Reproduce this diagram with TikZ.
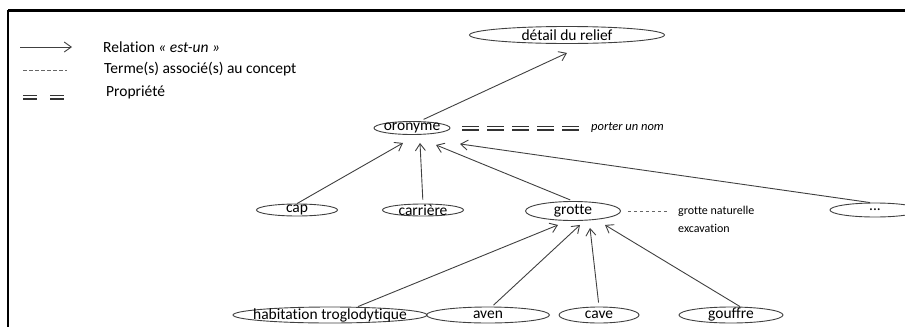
\documentclass[tikz,border=0pt]{standalone}
\usepackage{fontspec}
\setmainfont{Carlito}[Ligatures={NoCommon}]
\usetikzlibrary{positioning,shapes.geometric,arrows.meta}

\begin{document}
\begin{tikzpicture}[x=1pt, y=-1pt, font=\fontsize{15.5}{18}\selectfont,
	concept/.style = {draw=black!75, ellipse, line width=0.9pt, inner sep=0pt, minimum height=16},
	isa/.style = {draw=black!75, line width=0.9pt, -{Straight Barb[length=7pt,width=10pt]}},
	prop/.style = {draw=black!80, double=white, line width=1.4pt, double distance=2.2pt, dash pattern=on 17pt off 8pt},
	term/.style = {draw=black!60, line width=0.8pt, dash pattern=on 3.5pt off 2.5pt},
	txt/.style = {anchor=west, inner sep=0pt},
	note/.style = {txt, font=\fontsize{12}{18}\selectfont}]
	\useasboundingbox (0,0) rectangle (905,327);
	\draw[line width=3pt] (8,10) -- (905,10);
	\draw[line width=2pt] (8,10) -- (8,327);
	% legend
	\node[txt] (isalbl) at (103,47) {Relation \textit{« est-un »}};
	\node[txt] (termlbl) at (104,69) {Terme(s) associé(s) au concept};
	\node[txt] (proplbl) at (106,92) {Propriété};
	\coordinate (isa1) at (20,47);
	\coordinate (isa2) at (72,47);
	\coordinate (term1) at (23,70);
	\coordinate (term2) at (67,70);
	\coordinate (prop1) at (23,97);
	\coordinate (prop2) at (64,97);
	\draw[isa] (isa1) -- (isa2);
	\draw[term] (term1) -- (term2);
	\draw[prop, dash pattern=on 14pt off 13pt] (prop1) -- (prop2);
	% concepts
	\node[concept, minimum width=195, minimum height=17, label=center:détail du relief] (relief) at (567,35) {};
	\node[concept, minimum width=76, minimum height=13, label=center:oronyme] (oronyme) at (412,128) {};
	\node[concept, minimum width=81, minimum height=12, label=center:cap] (cap) at (297,210) {};
	\node[concept, minimum width=81, minimum height=12, label=center:carrière] (carriere) at (423,210) {};
	\node[concept, minimum width=95, minimum height=19, label=center:grotte] (grotte) at (573,211) {};
	\node[concept, minimum width=90, minimum height=14, label=center:...] (etc) at (875,210) {};
	\node[concept, minimum width=194, label=center:habitation troglodytique] (habitation) at (330,315) {};
	\node[concept, minimum width=123, label=center:aven] (aven) at (488,315) {};
	\node[concept, minimum width=80, label=center:cave] (cave) at (599,315) {};
	\node[concept, minimum width=104, label=center:gouffre] (gouffre) at (731,315) {};
	\node[note, font=\fontsize{12.5}{15}\selectfont\itshape] (porter) at (591,128) {porter un nom};
	\node[note, align=left] (naturelle) at (678,219) {grotte naturelle\\excavation};
	% relations
	\draw[isa, shorten <=4pt] ([xshift=8pt]oronyme.north) -- ([yshift=-9pt]relief.south);
	\draw[isa] (cap.north) -- ([xshift=-9pt, yshift=-8pt]oronyme.south);
	\draw[isa, shorten <=4pt] (carriere.north) -- ([xshift=8pt, yshift=-8pt]oronyme.south);
	\draw[isa, shorten <=3pt] (grotte.north) -- ([xshift=24pt, yshift=-10pt]oronyme.south);
	\draw[isa] ([xshift=-5pt]etc.north) -- ([xshift=48pt, yshift=-9pt]oronyme.south);
	\draw[isa] ([xshift=28pt]habitation.north) -- ([xshift=-15pt, yshift=-4pt]grotte.south);
	\draw[isa, shorten <=2pt] ([xshift=4pt]aven.north) -- ([xshift=7pt, yshift=-4pt]grotte.south);
	\draw[isa, shorten <=4pt] (cave.north) -- ([xshift=17pt, yshift=-7pt]grotte.south);
	\draw[isa] ([xshift=9pt]gouffre.north) -- ([xshift=32pt, yshift=-4pt]grotte.south);
	\draw[prop, shorten <=12pt, shorten >=11pt] (oronyme.east) -- (porter.west);
	\draw[term, shorten <=7pt, shorten >=10pt] (grotte.east) -- (grotte.east -| naturelle.west);
\end{tikzpicture}
\end{document}
